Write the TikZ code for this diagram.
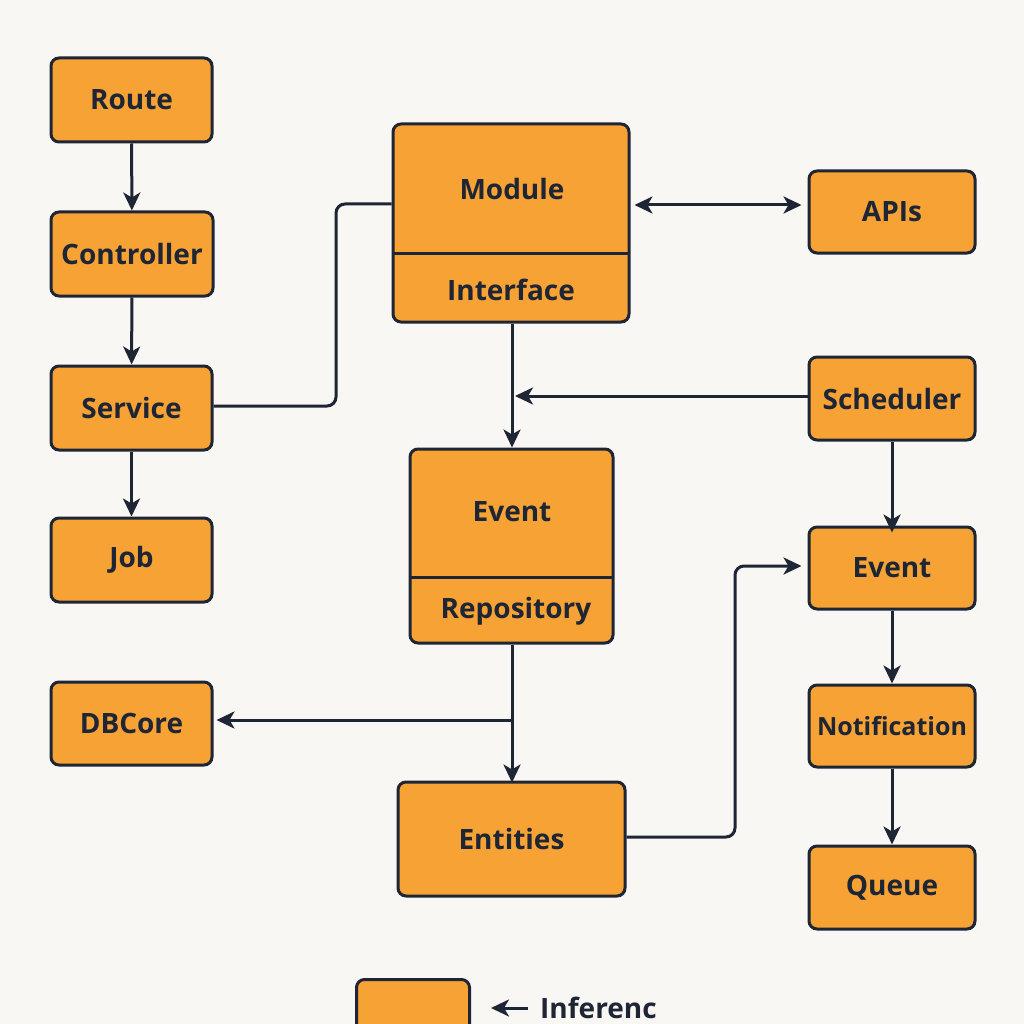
\documentclass[tikz,border=0pt]{standalone}
\usepackage{fontspec}
\setmainfont{Open Sans}
\usetikzlibrary{arrows.meta}
\definecolor{bg}{HTML}{F8F7F4}
\definecolor{org}{HTML}{F7A234}
\definecolor{ink}{HTML}{1E2535}
\tikzset{
  box/.style={draw=ink, fill=org, line width=3pt, rounded corners=8pt, inner sep=0pt},
  lbl/.style={text=ink, font=\fontsize{28}{30}\selectfont\bfseries, inner sep=0pt},
  conn/.style={draw=ink, line width=3pt, rounded corners=9pt},
  arr/.style={conn, -{Stealth[length=18pt,width=17pt,inset=5pt]}},
  darr/.style={conn, {Stealth[length=18pt,width=17pt,inset=5pt]}-{Stealth[length=18pt,width=17pt,inset=5pt]}}
}
\begin{document}
\begin{tikzpicture}[x=1pt,y=-1pt]
\fill[bg] (0,0) rectangle (1024,1024);
\useasboundingbox (0,0) rectangle (1024,1024);
\clip (0,0) rectangle (1024,1024);
% left column
\node[box, minimum width=161pt, minimum height=84pt] (route) at (131.5,100) {};
\node[lbl] at (route) {Route};
\node[box, minimum width=162pt, minimum height=84pt] (ctrl) at (132,254) {};
\node[lbl] at (ctrl) {Controller};
\node[box, minimum width=161pt, minimum height=84pt] (serv) at (131.5,408) {};
\node[lbl] at (serv) {Service};
\node[box, minimum width=161pt, minimum height=84pt] (job) at (131.5,560) {};
\node[lbl] at (job) {Job};
\node[box, minimum width=161pt, minimum height=83pt] (db) at (131.5,723.5) {};
\node[lbl] at (db) {DBCore};
% module
\node[box, minimum width=236pt, minimum height=198pt] (mod) at (511,223) {};
\draw[ink, line width=3pt] (393,253) -- (629,253);
\node[lbl] (modt) at (512,189) {Module};
\node[lbl] (intf) at (511,290) {Interface};
% event / repository
\node[box, minimum width=203pt, minimum height=194pt] (evr) at (511.5,546) {};
\draw[ink, line width=3pt] (410,577) -- (613,577);
\node[lbl] (evt) at (512,512) {Event};
\node[lbl] (repo) at (516,611) {Repository};
% entities
\node[box, minimum width=227pt, minimum height=114pt] (ent) at (511.5,839) {};
\node[lbl] at (ent) {Entities};
% right column
\node[box, minimum width=166pt, minimum height=82pt] (apis) at (892,212) {};
\node[lbl] at (apis) {APIs};
\node[box, minimum width=166pt, minimum height=83pt] (sched) at (892,398.5) {};
\node[lbl] at (sched) {Scheduler};
\node[box, minimum width=166pt, minimum height=82pt] (ev2) at (892,568) {};
\node[lbl] at (ev2) {Event};
\node[box, minimum width=166pt, minimum height=82pt] (notif) at (892,726) {};
\node[lbl, font=\fontsize{25}{30}\selectfont\bfseries] at (notif) {Notification};
\node[box, minimum width=166pt, minimum height=83pt] (queue) at (892,887.5) {};
\node[lbl] at (queue) {Queue};
% legend
\node[box, minimum width=113pt, minimum height=90pt, anchor=north west] (leg) at (355,978) {};
\node[lbl, anchor=west] (legt) at (540,1008) {Inferenc};
% connectors
\draw[arr] (route) -- (ctrl);
\draw[arr] (ctrl) -- (serv);
\draw[arr] (serv) -- (job);
\draw[conn] (serv.east |- 0,406) -- (336,406) -- (336,204) -- (mod.west |- 0,204);
\draw[darr] ([xshift=4pt]mod.east |- 0,205) -- ([xshift=-6pt]apis.west |- 0,205);
\draw[arr] (mod.south -| 512,0) -- (evr.north -| 512,0);
\coordinate (j1) at (515,396);
\draw[arr] (sched.west |- j1) -- (j1);
\draw[arr] (sched) -- ([yshift=-7pt]ev2.north);
\draw[arr] (ev2) -- (notif);
\draw[arr] (notif) -- (queue);
\draw[arr] (evr.south -| 512,0) -- ([yshift=-2pt]ent.north -| 512,0);
\coordinate (j2) at (512,720);
\draw[arr] (j2) -- ([xshift=3pt]db.east |- j2);
\draw[arr] (ent.east |- 0,837) -- (735,837) -- (735,566) -- ([xshift=-6pt]ev2.west |- 0,566);
\draw[arr] ([xshift=-12pt]legt.west) -- ([xshift=20pt]leg.east |- legt.west);
\end{tikzpicture}
\end{document}
